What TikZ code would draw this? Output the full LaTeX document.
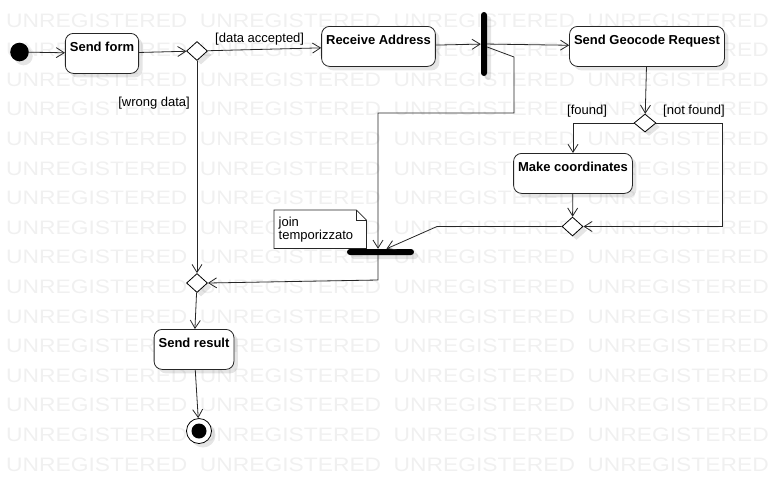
\documentclass[tikz,border=0pt]{standalone}
\usepackage{fontspec}
\setmainfont{Liberation Sans}
\newfontfamily\wmfont[FakeStretch=1.17]{Liberation Sans}
\usepackage{tikz}
\usetikzlibrary{arrows.meta}
\usetikzlibrary{shapes.geometric, shadows}
\newcommand{\wmgap}{\hspace{12.5pt}}
\newcommand{\wmrow}{UNREGISTERED\wmgap UNREGISTERED\wmgap UNREGISTERED\wmgap UNREGISTERED}
\tikzset{
soft shadow/.style = {drop shadow={shadow xshift=4pt,shadow yshift=-4pt,opacity=0.1,fill=black}},
action/.style = { rectangle, draw = black!85, fill = white, rounded corners = 8pt, line width = 0.8pt, font = \fontsize{13}{15}\selectfont\bfseries, inner xsep = 4.5pt, inner ysep = 4pt, text height = 14pt, text depth = 18pt, anchor = north, soft shadow },
branch/.style = { diamond, draw = black, fill = white, inner sep = 0pt, minimum width = 21pt, minimum height = 19pt, line width = 0.8pt, soft shadow },
bar/.style = { rectangle, fill = black, rounded corners = 3pt, inner sep = 0pt, soft shadow },
guard/.style = { font = \fontsize{13}{15}\selectfont, inner sep = 0pt },
flow/.style = { draw = black!85, line width = 0.8pt, -{Straight Barb[length = 8pt, width = 10pt]} },
watermark/.style = { font = \wmfont\fontsize{19.5}{20}\selectfont, text = black!6, inner sep = 0pt, anchor = base west },
comment/.style = { fill = white, align = left, font = \fontsize{13}{13}\selectfont, inner xsep = 4.5pt, text width = 83pt, minimum height = 38pt, anchor = north west },
}

\begin{document}
\begin{tikzpicture}[x=1pt, y=-1pt]
    \useasboundingbox (0,0) rectangle (778,483);
    % watermark rows
    \begin{scope}
      \node[watermark] (wm1) at (6,27) {\wmrow};
      \node[watermark] (wm2) at (6,56.6) {\wmrow};
      \node[watermark] (wm3) at (6,86.2) {\wmrow};
      \node[watermark] (wm4) at (6,115.8) {\wmrow};
      \node[watermark] (wm5) at (6,145.4) {\wmrow};
      \node[watermark] (wm6) at (6,175) {\wmrow};
      \node[watermark] (wm7) at (6,204.6) {\wmrow};
      \node[watermark] (wm8) at (6,234.2) {\wmrow};
      \node[watermark] (wm9) at (6,263.8) {\wmrow};
      \node[watermark] (wm10) at (6,293.4) {\wmrow};
      \node[watermark] (wm11) at (6,323) {\wmrow};
      \node[watermark] (wm12) at (6,352.6) {\wmrow};
      \node[watermark] (wm13) at (6,382.2) {\wmrow};
      \node[watermark] (wm14) at (6,411.8) {\wmrow};
      \node[watermark] (wm15) at (6,441.4) {\wmrow};
      \node[watermark] (wm16) at (6,471) {\wmrow};
    \end{scope}
    % activities
    \node[circle, fill = black, minimum size = 18.6pt, inner sep = 0pt, soft shadow] (initial) at (19.5,52) {};
    \node[action] (sendform) at (102,33) {Send form};
    \node[branch] (check) at (197,51) {};
    \node[action] (receive) at (378.5,26) {Receive Address};
    \node[bar, minimum width = 6pt, minimum height = 64pt] (fork) at (484,44) {};
    \node[action] (geocode) at (647,26) {Send Geocode Request};
    \node[branch, minimum width = 22pt, minimum height = 18pt] (found) at (645,123) {};
    \node[action] (coords) at (573,153) {Make coordinates};
    \node[branch] (merge) at (572.5,226.5) {};
    \node[bar, minimum width = 67pt, minimum height = 6pt] (join) at (380.5,252) {};
    \node[branch] (collect) at (197,283) {};
    \node[action] (result) at (194,329) {Send result};
    \node[circle, draw = black, fill = white, line width = 0.8pt, minimum size = 25pt, inner sep = 0pt, soft shadow] (final) at (199,431) {};
    \node[circle, fill = black, minimum size = 15pt, inner sep = 0pt] (finaldot) at (final) {};
    % note
    \node[comment] (note) at (274,210) {join\\temporizzato};
    \draw[black!85, line width = 0.8pt] (note.south west) -- (note.north west) -- ([xshift=-10pt]note.north east) -- ([yshift=-10pt]note.north east) -- (note.south east) -- cycle;
    \draw[black!85, line width = 0.8pt] ([xshift=-10pt]note.north east) |- ([yshift=-10pt]note.north east);
    % guards
    \node[guard, anchor = base west] (accepted) at (215,42) {[data accepted]};
    \node[guard, anchor = base east] (wrong) at (190,106) {[wrong data]};
    \node[guard, anchor = base west] (isfound) at (567,114) {[found]};
    \node[guard, anchor = base west] (notfound) at (663,114) {[not found]};
    % bends
    \coordinate (forkbend) at (514,57);
    \coordinate (forkturn) at (378,113);
    \coordinate (nfright) at (722,226.5);
    \coordinate (joinbend) at (437,226.5);
    \coordinate (joinout) at (378,280);
    % flows
    \begin{scope}[every edge/.style = {flow}]
      \path (initial) edge (sendform);
      \path (sendform) edge (check);
      \path (check) edge (receive);
      \path (check) edge (collect);
      \path (receive) edge (fork);
      \path (fork) edge (geocode);
      \path (geocode) edge (found);
      \path (coords) edge (merge);
      \path (collect) edge (result);
      \path (result) edge (final);
    \end{scope}
    \draw[flow] ([yshift=-3pt]fork.east) -- (forkbend) |- (forkturn) -- (forkturn |- join.north);
    \draw[flow] (found.west) -| (coords.north);
    \draw[flow] (found.east) -| (nfright) -- (merge.east);
    \draw[flow] (merge.west) -- (joinbend) -- ([xshift=6pt]join.north);
    \draw[flow] (forkturn |- join.south) -- (joinout) -- (collect.east);
\end{tikzpicture}
\end{document}
